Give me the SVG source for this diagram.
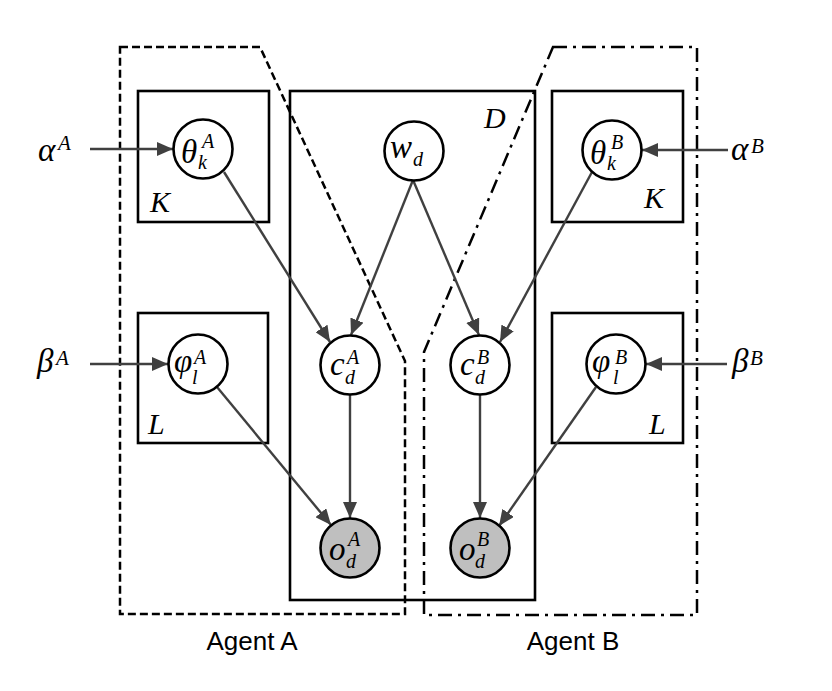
<svg xmlns="http://www.w3.org/2000/svg" width="832" height="691" viewBox="0 0 832 691">
<style>
.plate{fill:none;stroke:#000;stroke-width:2.6}
.node{fill:#fff;stroke:#000;stroke-width:2.6}
.obs{fill:#bfbfbf;stroke:#000;stroke-width:2.6}
.edge{fill:none;stroke:#404040;stroke-width:2.4;marker-end:url(#arr)}
.m{font-family:"Liberation Serif","DejaVu Serif",serif;font-style:italic;fill:#000}
.big{font-size:33px}
.sc{font-size:20px}
.pl{font-size:30px}
.lbl{font-family:"Liberation Sans",Arial,sans-serif;font-size:26px;fill:#000}
</style>
<defs>
<marker id="arr" markerUnits="userSpaceOnUse" markerWidth="16" markerHeight="14" refX="16" refY="7" orient="auto">
<path d="M0,0 L16,7 L0,14 z" fill="#404040"/>
</marker>
</defs>
<rect width="832" height="691" fill="#fff"/>

<g id="agentA-region">
<path d="M120,47 L260,47 L405,361 L405,614 L120,614 Z" fill="none" stroke="#000" stroke-width="2.5" stroke-dasharray="8 4"/>
</g>
<g id="agentB-region">
<path d="M553,47 L697,47 L697,615 L424,615 L424,352 Z" fill="none" stroke="#000" stroke-width="2.5" stroke-dasharray="14 6 3 6"/>
</g>

<g id="plate-D">
<rect class="plate" x="290" y="91" width="245" height="509"/>
<text class="m pl" x="484" y="128">D</text>
</g>
<g id="plate-KA">
<rect class="plate" x="138" y="91" width="131" height="131"/>
<text class="m pl" x="150" y="212">K</text>
</g>
<g id="plate-KB">
<rect class="plate" x="552" y="91" width="131" height="131"/>
<text class="m pl" x="644" y="208">K</text>
</g>
<g id="plate-LA">
<rect class="plate" x="138" y="313" width="130" height="130"/>
<text class="m pl" x="148" y="434">L</text>
</g>
<g id="plate-LB">
<rect class="plate" x="552" y="313" width="131" height="130"/>
<text class="m pl" x="649" y="434">L</text>
</g>

<g id="connectors">
<line class="edge" x1="90" y1="149" x2="173" y2="149"/>
<line class="edge" x1="728" y1="150" x2="642" y2="150"/>
<line class="edge" x1="90" y1="364" x2="168" y2="364"/>
<line class="edge" x1="727" y1="364" x2="646" y2="364"/>
<line class="edge" x1="224" y1="172" x2="330" y2="342"/>
<line class="edge" x1="413" y1="180" x2="351" y2="335"/>
<line class="edge" x1="413" y1="180" x2="479" y2="335"/>
<line class="edge" x1="592" y1="172" x2="500" y2="342"/>
<line class="edge" x1="350" y1="395" x2="350" y2="518"/>
<line class="edge" x1="480" y1="395" x2="480" y2="518"/>
<line class="edge" x1="217" y1="387" x2="331" y2="525"/>
<line class="edge" x1="596" y1="387" x2="499" y2="526"/>
</g>

<g id="alphaA">
<text class="m" x="38" y="161" font-size="33">α</text>
<text class="m" x="58" y="150" font-size="21">A</text>
</g>
<g id="alphaB">
<text class="m" x="731" y="160" font-size="33">α</text>
<text class="m" x="751" y="153" font-size="21">B</text>
</g>
<g id="betaA">
<text class="m" x="37" y="372" font-size="33">β</text>
<text class="m" x="56" y="365" font-size="21">A</text>
</g>
<g id="betaB">
<text class="m" x="732" y="372" font-size="33">β</text>
<text class="m" x="750" y="365" font-size="21">B</text>
</g>

<g id="thetaA">
<circle class="node" cx="203" cy="149" r="29.5"/>
<text class="m big" x="181" y="163">θ</text>
<text class="m sc" x="202" y="148">A</text>
<text class="m sc" x="198" y="169">k</text>
</g>
<g id="thetaB">
<circle class="node" cx="612" cy="150" r="29.5"/>
<text class="m big" x="590" y="164">θ</text>
<text class="m sc" x="611" y="149">B</text>
<text class="m sc" x="607" y="170">k</text>
</g>
<g id="w">
<circle class="node" cx="414" cy="151" r="29.5"/>
<text class="m big" x="390" y="158">w</text>
<text class="m sc" x="413" y="166">d</text>
</g>
<g id="cA">
<circle class="node" cx="350" cy="365" r="29.5"/>
<text class="m big" x="330" y="375">c</text>
<text class="m sc" x="347" y="364">A</text>
<text class="m sc" x="345" y="384">d</text>
</g>
<g id="cB">
<circle class="node" cx="480" cy="365" r="29.5"/>
<text class="m big" x="460" y="375">c</text>
<text class="m sc" x="477" y="364">B</text>
<text class="m sc" x="475" y="384">d</text>
</g>
<g id="phiA">
<circle class="node" cx="198" cy="364" r="29.5"/>
<text class="m big" x="174" y="372">φ</text>
<text class="m sc" x="194" y="364">A</text>
<text class="m sc" x="192" y="384">l</text>
</g>
<g id="phiB">
<circle class="node" cx="616" cy="364" r="29.5"/>
<text class="m big" x="592" y="372">φ</text>
<text class="m sc" x="615" y="364">B</text>
<text class="m sc" x="613" y="384">l</text>
</g>
<g id="oA">
<circle class="obs" cx="350" cy="548" r="29.5"/>
<text class="m big" x="329" y="560">o</text>
<text class="m sc" x="348" y="546">A</text>
<text class="m sc" x="346" y="568">d</text>
</g>
<g id="oB">
<circle class="obs" cx="480" cy="548" r="29.5"/>
<text class="m big" x="459" y="560">o</text>
<text class="m sc" x="477" y="546">B</text>
<text class="m sc" x="475" y="568">d</text>
</g>

<g id="labels">
<text class="lbl" x="252" y="650" text-anchor="middle">Agent A</text>
<text class="lbl" x="573" y="650" text-anchor="middle">Agent B</text>
</g>
</svg>
